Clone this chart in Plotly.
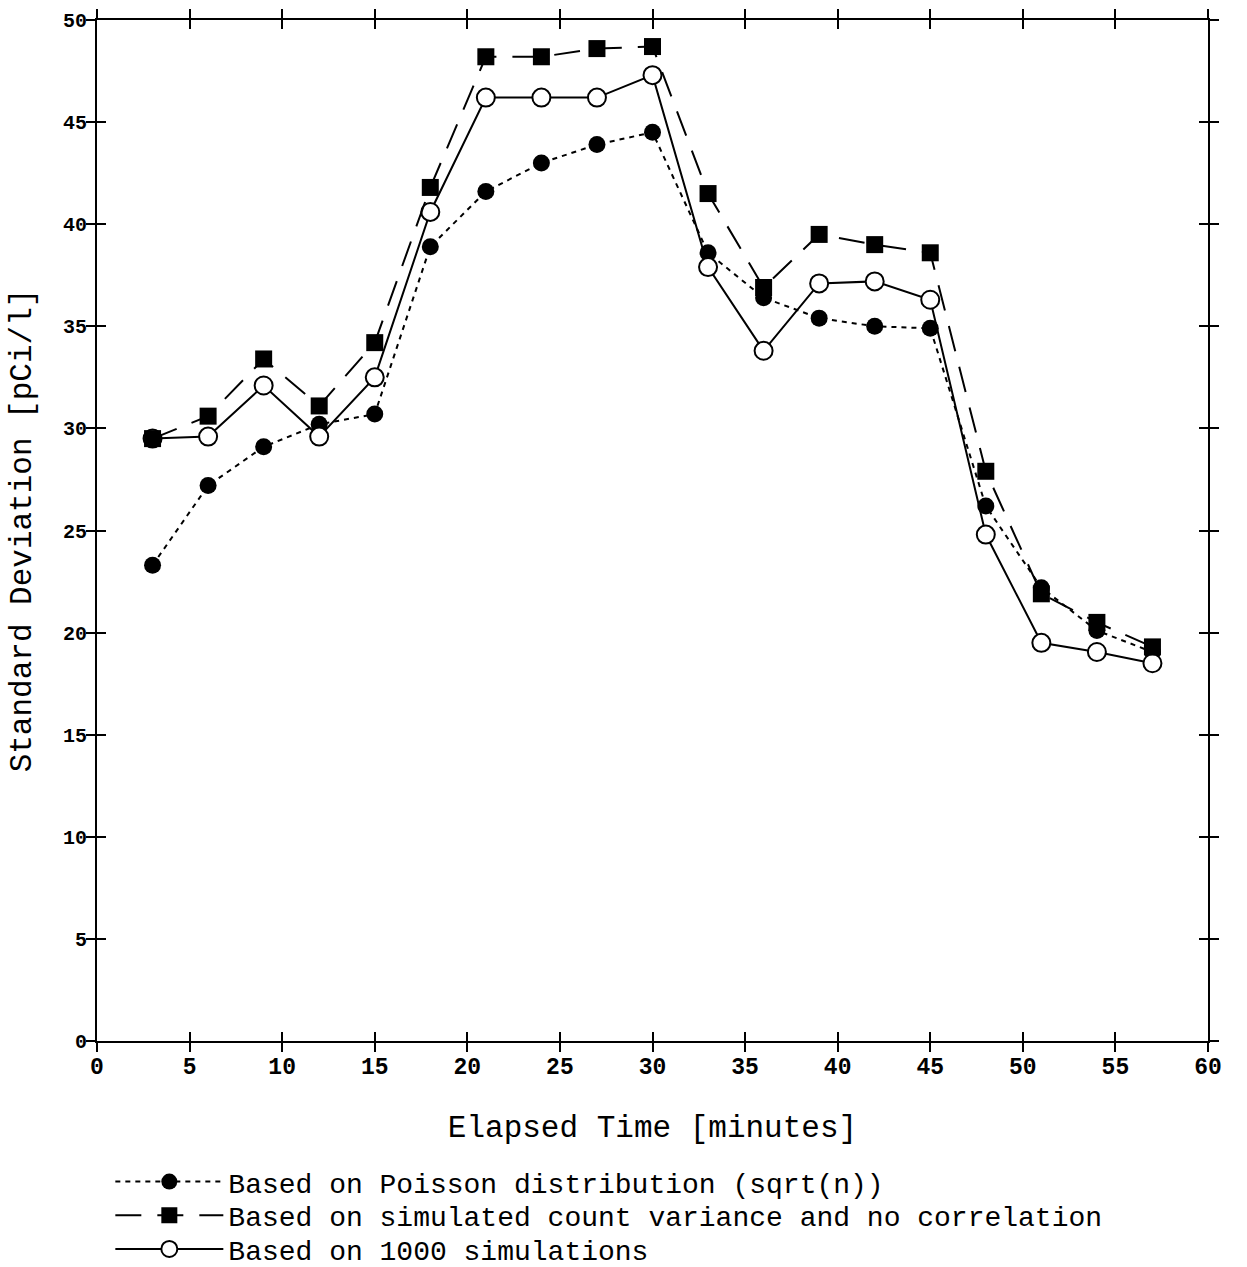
import plotly.graph_objects as go

minutes = [3, 6, 9, 12, 15, 18, 21, 24, 27, 30, 33, 36, 39, 42, 45, 48, 51, 54, 57]
poisson = [23.3, 27.2, 29.1, 30.2, 30.7, 38.9, 41.6, 43.0, 43.9, 44.5,
           38.6, 36.4, 35.4, 35.0, 34.9, 26.2, 22.2, 20.1, 19.05]
sim_no_corr = [29.5, 30.6, 33.4, 31.1, 34.2, 41.8, 48.2, 48.2, 48.6, 48.7,
               41.5, 36.9, 39.5, 39.0, 38.6, 27.9, 21.9, 20.5, 19.3]
sim_1000 = [29.5, 29.6, 32.1, 29.6, 32.5, 40.6, 46.2, 46.2, 46.2, 47.3,
            37.9, 33.8, 37.1, 37.2, 36.3, 24.8, 19.5, 19.05, 18.5]

names = ["Based on Poisson distribution (sqrt(n))",
         "Based on simulated count variance and no correlation",
         "Based on 1000 simulations"]
x_ticks = list(range(0, 61, 5))
y_ticks = list(range(0, 51, 5))

FONT = "Liberation Mono, Courier New, monospace"

fig = go.Figure()
fig.add_trace(go.Scatter(
    x=minutes, y=poisson, name=names[0], mode="lines+markers", legend="legend",
    line=dict(color="black", width=2, dash="5px,5px"),
    marker=dict(symbol="circle", size=17, color="black")))
fig.add_trace(go.Scatter(
    x=minutes, y=sim_1000, name=names[2], mode="lines+markers", legend="legend3",
    line=dict(color="black", width=2),
    marker=dict(symbol="circle", size=18, color="white", line=dict(color="black", width=2))))
fig.add_trace(go.Scatter(
    x=minutes, y=sim_no_corr, name=names[1], mode="lines+markers", legend="legend2",
    line=dict(color="black", width=2, dash="26px,16px"),
    marker=dict(symbol="square", size=17, color="black")))

axis_common = dict(showgrid=False, zeroline=False, tickmode="array",
                   ticklen=9, tickwidth=2, tickcolor="black", automargin=False)

fig.update_layout(
    width=1247, height=1267,
    margin=dict(l=97, r=39, t=20, b=226, autoexpand=False),
    paper_bgcolor="white", plot_bgcolor="white",
    font=dict(family=FONT, color="black"),
    xaxis=dict(range=[0, 60], tickvals=x_ticks, ticktext=[str(v) for v in x_ticks],
               ticks="outside", mirror="allticks", showline=True, linecolor="black",
               linewidth=2, tickfont=dict(size=23, family=FONT, weight="bold"),
               ticklabelstandoff=-6,
               title=dict(text="Elapsed Time [minutes]", font=dict(size=31, family=FONT),
                          standoff=36),
               **axis_common),
    xaxis2=dict(range=[0, 60], tickvals=x_ticks, overlaying="x", ticks="inside",
                mirror="allticks", showticklabels=False, showline=False, **axis_common),
    yaxis=dict(range=[0, 50], tickvals=y_ticks, ticktext=[str(v) for v in y_ticks],
               ticks="outside", mirror="allticks", showline=True, linecolor="black",
               linewidth=2, tickfont=dict(size=20, family=FONT, weight="bold"),
               ticklabelstandoff=-5,
               title=dict(text="Standard Deviation [pCi/l]", font=dict(size=31, family=FONT),
                          standoff=22),
               **axis_common),
    yaxis2=dict(range=[0, 50], tickvals=y_ticks, overlaying="y", ticks="inside",
                mirror="allticks", showticklabels=False, showline=False, **axis_common),
    showlegend=True,
)

leg_common = dict(x=0.012, xanchor="left", yanchor="middle", itemwidth=108,
                  bgcolor="rgba(0,0,0,0)", font=dict(size=28, family=FONT),
                  borderwidth=0)
fig.update_layout(
    legend=dict(y=-0.138, **leg_common),
    legend2=dict(y=-0.171, **leg_common),
    legend3=dict(y=-0.204, **leg_common),
)

# invisible trace so the overlay (inside-tick) axes are rendered
fig.add_trace(go.Scatter(x=[None], y=[None], xaxis="x2", yaxis="y2", showlegend=False,
                         hoverinfo="skip"))

fig.write_html("out.html")
